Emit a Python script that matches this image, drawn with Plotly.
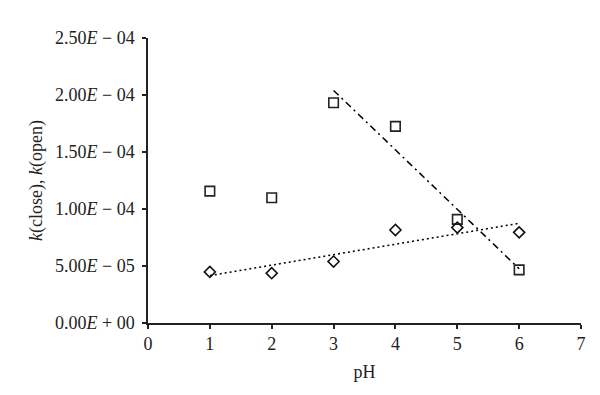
import numpy as np
import plotly.graph_objects as go

ph = [1, 2, 3, 4, 5, 6]
k_close = [1.157e-4, 1.099e-4, 1.932e-4, 1.725e-4, 0.909e-4, 0.466e-4]
k_open = [0.448e-4, 0.437e-4, 0.539e-4, 0.816e-4, 0.837e-4, 0.795e-4]

x_ticks = [0, 1, 2, 3, 4, 5, 6, 7]
y_ticks = [0, 5e-5, 1e-4, 1.5e-4, 2e-4, 2.5e-4]
y_ticktext = ["0.00<i>E</i> + 00", "5.00<i>E</i> − 05", "1.00<i>E</i> − 04",
              "1.50<i>E</i> − 04", "2.00<i>E</i> − 04", "2.50<i>E</i> − 04"]

# linear trendlines
fit_close_x = ph[2:]
c1 = np.polyfit(fit_close_x, k_close[2:], 1)
tc_x = [fit_close_x[0], fit_close_x[-1]]
tc_y = list(np.polyval(c1, tc_x))

c2 = np.polyfit(ph, k_open, 1)
to_x = [ph[0], ph[-1]]
to_y = list(np.polyval(c2, to_x))

fig = go.Figure()
fig.add_trace(go.Scatter(x=tc_x, y=tc_y, mode="lines",
                         line=dict(color="black", width=1.5, dash="7px,4px,2px,4px"),
                         showlegend=False, hoverinfo="skip"))
fig.add_trace(go.Scatter(x=to_x, y=to_y, mode="lines",
                         line=dict(color="black", width=1.5, dash="2px,3px"),
                         showlegend=False, hoverinfo="skip"))
fig.add_trace(go.Scatter(x=ph, y=k_close, mode="markers", name="k(close)",
                         marker=dict(symbol="square-open", size=9.5, color="#222",
                                     line=dict(width=1.6, color="#222")),
                         showlegend=False))
fig.add_trace(go.Scatter(x=ph, y=k_open, mode="markers", name="k(open)",
                         marker=dict(symbol="diamond-open", size=8.5, color="#111",
                                     line=dict(width=1.6, color="#111")),
                         showlegend=False))

font = dict(family="Liberation Serif, Times New Roman, serif", size=18, color="#222")
fig.update_layout(
    width=600, height=395,
    margin=dict(l=140, r=27, t=30, b=80),
    paper_bgcolor="white", plot_bgcolor="white",
    font=font,
    xaxis=dict(range=[0, 7], tickvals=x_ticks, showgrid=False, zeroline=False,
               showline=True, linecolor="#222", linewidth=1.5,
               ticks="outside", ticklen=4, tickwidth=1.5, tickcolor="#222",
               title=dict(text="pH", font=font, standoff=12)),
    yaxis=dict(range=[0, 2.5e-4], tickvals=y_ticks, ticktext=y_ticktext,
               showgrid=False, zeroline=False,
               showline=True, linecolor="#222", linewidth=1.5,
               ticks="outside", ticklen=4, tickwidth=1.5, tickcolor="#222",
               ticklabelstandoff=4,
               title=dict(text="<i>k</i>(close), <i>k</i>(open)", font=font, standoff=8)),
)
fig.write_html("out.html")
